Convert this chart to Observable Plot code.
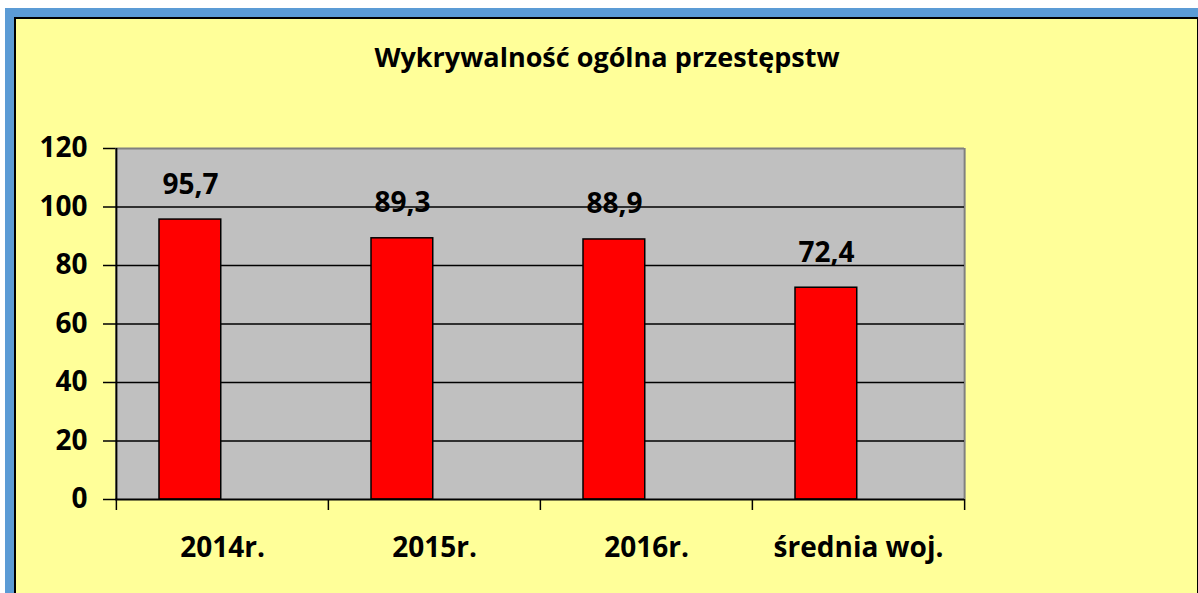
<!DOCTYPE html>
<html>
<head>
<meta charset="utf-8">
<script src="https://cdn.jsdelivr.net/npm/d3@7"></script>
<script src="https://cdn.jsdelivr.net/npm/@observablehq/plot@0.6"></script>
<style>
  html, body { margin: 0; padding: 0; background: #ffffff; width: 1198px; height: 593px; overflow: hidden; }
  #blue { position: absolute; left: 5px; top: 8px; width: 1200px; height: 600px; background: #5B9BD5; }
  #yellow { position: absolute; left: 14px; top: 17px; width: 1181px; height: 600px; background: #FFFF99;
            border-left: 2px solid #000; border-top: 2px solid #000; border-right: 2px solid #000; }
  #title { position: absolute; left: 0; width: 1214px; top: 38px; text-align: center;
           font-family: "Open Sans", sans-serif; font-weight: bold; font-size: 27px; color: #000; }
  #chart { position: absolute; left: 0; top: 0; }
  #chart svg { background: transparent !important; }
</style>
</head>
<body>
<div id="blue"></div>
<div id="yellow"></div>
<div id="title">Wykrywalność ogólna przestępstw</div>
<div id="chart"></div>
<script>
const categories = ["2014r.", "2015r.", "2016r.", "średnia woj."];
const values = [95.7, 89.3, 88.9, 72.4];
const valueLabels = ["95,7", "89,3", "88,9", "72,4"];
const yTicks = [0, 20, 40, 60, 80, 100, 120];
const gridValues = [20, 40, 60, 80, 100];

const data = categories.map((c, i) => ({category: c, value: values[i], label: valueLabels[i]}));

const W = 1198, H = 593;
const mL = 115, mR = 234, mT = 148, mB = 94;
const bw = (W - mL - mR) / categories.length;
const barLeft = 43, barW = 62;
const barCenterOffset = barLeft + barW / 2 - bw / 2;
const font = "'Open Sans', sans-serif";

const chart = Plot.plot({
  width: W,
  height: H,
  marginLeft: mL,
  marginRight: mR,
  marginTop: mT,
  marginBottom: mB,
  style: {background: "transparent", fontFamily: font, color: "#000"},
  x: {domain: categories, padding: 0, label: null},
  y: {domain: [0, 120], label: null},
  marks: [
    Plot.frame({fill: "#C0C0C0", stroke: null}),
    Plot.ruleY([120], {stroke: "#808080", strokeWidth: 2}),
    Plot.ruleX([categories[categories.length - 1]], {dx: bw / 2, stroke: "#808080", strokeWidth: 2}),
    Plot.ruleY(gridValues, {stroke: "#000", strokeWidth: 1.5}),
    Plot.barY(data, {x: "category", y: "value", fill: "#FF0000", stroke: "#000", strokeWidth: 1.5,
      insetLeft: barLeft, insetRight: bw - barLeft - barW}),
    Plot.ruleY([0], {stroke: "#000", strokeWidth: 2}),
    Plot.ruleX([categories[0]], {dx: -bw / 2, stroke: "#000", strokeWidth: 2}),
    Plot.text(data, {x: "category", y: "value", text: "label", dx: barCenterOffset, dy: -35,
      fontSize: 28, fontWeight: "bold", fill: "#000"}),
    Plot.axisY({ticks: yTicks, tickSize: 12, tickPadding: 16, fontSize: 28, fontWeight: "bold",
      stroke: "#000", strokeWidth: 1.5, label: null}),
    Plot.axisX({ticks: categories, tickSize: 11, dx: -bw / 2, tickFormat: () => "", stroke: "#000", strokeWidth: 1.5, label: null}),
    Plot.axisX({ticks: [categories[categories.length - 1]], tickSize: 11, dx: bw / 2, tickFormat: () => "", stroke: "#000", strokeWidth: 1.5, label: null}),
    Plot.axisX({ticks: categories, tickSize: 0, tickPadding: 38, fontSize: 28, fontWeight: "bold", label: null})
  ]
});
document.getElementById("chart").appendChild(chart);
</script>
</body>
</html>
